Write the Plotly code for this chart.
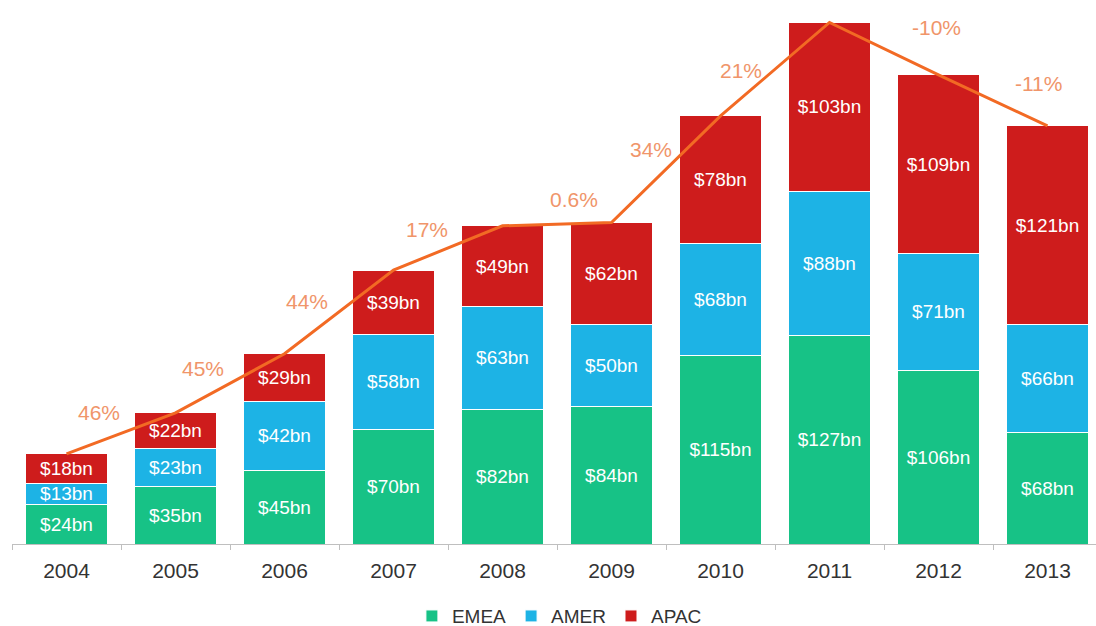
import plotly.graph_objects as go

# Annual deal value by region, US$ billions
years = ["2004", "2005", "2006", "2007", "2008", "2009", "2010", "2011", "2012", "2013"]
emea = [24, 35, 45, 70, 82, 84, 115, 127, 106, 68]
amer = [13, 23, 42, 58, 63, 50, 68, 88, 71, 66]
apac = [18, 22, 29, 39, 49, 62, 78, 103, 109, 121]

# Year-on-year growth of the total
growth_labels = ["46%", "45%", "44%", "17%", "0.6%", "34%", "21%", "-10%", "-11%"]

totals = [e + a + p for e, a, p in zip(emea, amer, apac)]

FONT = "Arial, Liberation Sans, sans-serif"
series = [
    ("EMEA", emea, "#17C286"),
    ("AMER", amer, "#1DB3E5"),
    ("APAC", apac, "#CE1C1C"),
]

fig = go.Figure()
for name, vals, color in series:
    fig.add_trace(go.Bar(
        x=years, y=vals, name=name,
        marker=dict(color=color, line=dict(color="white", width=1)),
        text=[f"${v}bn" for v in vals],
        textposition="inside",
        insidetextanchor="middle",
        textangle=0,
        constraintext="none",
        textfont=dict(family=FONT, size=19, color="white"),
        hoverinfo="skip",
    ))

# Total trend line across the bar tops
fig.add_trace(go.Scatter(
    x=years, y=totals, mode="lines",
    line=dict(color="#F26A24", width=3),
    showlegend=False, hoverinfo="skip",
))

# Growth labels sit beside each segment of the trend line (pixel nudges)
label_nudges = [(-22, 21), (-27, 15), (-32, 10), (-21, 18), (17, 25),
                (-15, 20), (-34, -1), (52, 21), (45, 17)]
for i, (lbl, (dx, dy)) in enumerate(zip(growth_labels, label_nudges)):
    fig.add_annotation(
        x=i + 0.5, y=(totals[i] + totals[i + 1]) / 2,
        xref="x", yref="y", text=lbl, showarrow=False,
        xshift=dx, yshift=dy,
        font=dict(family=FONT, size=21, color="#F0956A"),
    )

fig.update_layout(
    width=1096, height=626,
    margin=dict(l=12, r=0, t=10, b=82, autoexpand=False),
    barmode="stack", bargap=0.25,
    plot_bgcolor="white", paper_bgcolor="white",
    font=dict(family=FONT, color="#333333"),
    showlegend=True,
    legend=dict(
        orientation="h", x=0.505, xanchor="center", y=-0.135, yanchor="middle",
        font=dict(family=FONT, size=19, color="#333333"),
        traceorder="normal", itemwidth=30,
    ),
    xaxis=dict(
        type="category", range=[-0.5, 9.445],
        showline=True, linecolor="#BFBFBF", linewidth=1,
        ticks="outside", tickson="boundaries", ticklen=5, tickcolor="#BFBFBF",
        tickfont=dict(family=FONT, size=21, color="#333333"),
        ticklabelstandoff=8,
        showgrid=False, zeroline=False,
    ),
    yaxis=dict(
        range=[0, 325.6], visible=False, showgrid=False, zeroline=False,
    ),
)

fig.write_html("out.html")
